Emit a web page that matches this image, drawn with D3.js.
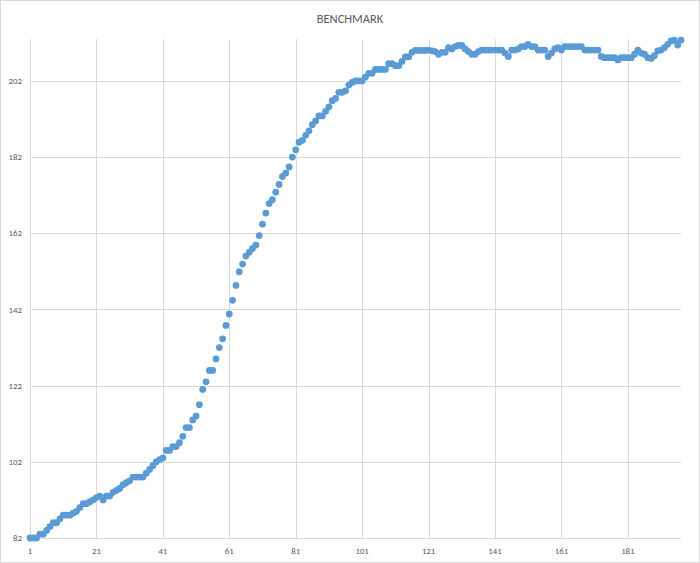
<!DOCTYPE html>
<html>
<head>
<meta charset="utf-8">
<script src="https://cdn.jsdelivr.net/npm/d3@7"></script>
<style>
    body { margin: 0; background: #fff; }
    #chart-area text { font-family: Calibri, Carlito, Lato, sans-serif; fill: #595959; }
    .grid-line { stroke: #d9d9d9; stroke-width: 1; shape-rendering: crispEdges; }
</style>
</head>
<body>
<div id="chart-area"></div>
<script>
// Benchmark values, one per category (1..197)
const values = [
    82, 82, 82, 83, 83, 84, 85, 86, 86, 87,
    88, 88, 88, 88.5, 89, 90, 91, 91, 91.5, 92,
    92.6, 93, 92, 93, 93, 94, 94.5, 95, 96, 96.5,
    97, 98, 98, 98, 98, 99, 100, 101, 102, 102.6,
    103, 105, 105, 106, 106, 107, 108.7, 111, 111, 113,
    114, 117, 121, 123, 126, 126, 129, 132, 134.3, 137.8,
    140.8, 144.4, 148.3, 151.9, 153.9, 156, 157, 158, 158.9, 161.4,
    164.4, 167.3, 169.8, 170.8, 172.8, 174.8, 176.9, 177.8, 179.4, 182,
    183.9, 185.9, 186.4, 187.7, 188.9, 190.5, 191.5, 192.8, 192.8, 194,
    195.2, 196.8, 197.4, 199, 199, 199.4, 200.9, 201.6, 202, 202,
    202, 203, 204, 204, 205, 205, 205, 205, 206.5, 206.5,
    206, 206, 207.1, 208.3, 208.3, 209.5, 210, 210, 210, 210,
    210.1, 209.9, 209.7, 209, 209.5, 209.5, 210.7, 210.4, 211, 211.3,
    211.3, 210.4, 209.7, 209, 209, 209.7, 210.1, 210.1, 210.1, 210.1,
    210.1, 210.1, 210.1, 209.3, 208.4, 210.1, 210.1, 210.4, 211, 211,
    211.6, 211, 211, 210.1, 210.1, 210.1, 208.4, 209.3, 210.4, 210.7,
    210.1, 211, 211, 211, 211, 211, 211, 210.1, 210.1, 210.1,
    210.1, 210.1, 208.4, 208.1, 208.1, 208.1, 208.1, 207.5, 208.1, 208.1,
    208.1, 208.1, 209, 210.1, 209.3, 209, 208.1, 207.9, 208.6, 209.9,
    210.1, 210.7, 211.6, 212.5, 212.7, 211.4, 212.7
];
const xTicks = [1, 21, 41, 61, 81, 101, 121, 141, 161, 181];
const yTicks = [82, 102, 122, 142, 162, 182, 202];
const title = "BENCHMARK";

document.addEventListener('DOMContentLoaded', function () {

    // 1. Setup
    const width = 700;
    const height = 563;
    const margin = { top: 39, right: 19, bottom: 25, left: 30 };
    const data = values.map((v, i) => ({ x: i + 1, y: v }));

    const svg = d3.select("#chart-area")
        .append("svg")
        .attr("width", width)
        .attr("height", height);

    // chart area border
    svg.append("rect")
        .attr("x", 0.5).attr("y", 0.5)
        .attr("width", width - 1).attr("height", height - 1)
        .attr("fill", "#fff")
        .attr("stroke", "#d9d9d9");

    // 2. Scales
    const xScale = d3.scaleLinear()
        .domain([1, values.length])
        .range([margin.left, width - margin.right]);

    const yScale = d3.scaleLinear()
        .domain([82, 213])
        .range([height - margin.bottom, margin.top]);

    // 3. Gridlines
    svg.selectAll(".h-grid")
        .data(yTicks)
        .enter()
        .append("line")
        .attr("class", "grid-line")
        .attr("x1", margin.left)
        .attr("x2", width - margin.right)
        .attr("y1", d => Math.round(yScale(d)) + 0.5)
        .attr("y2", d => Math.round(yScale(d)) + 0.5);

    svg.selectAll(".v-grid")
        .data(xTicks)
        .enter()
        .append("line")
        .attr("class", "grid-line")
        .attr("x1", d => Math.round(xScale(d)) + 0.5)
        .attr("x2", d => Math.round(xScale(d)) + 0.5)
        .attr("y1", margin.top)
        .attr("y2", height - margin.bottom);

    // 4. Axis labels
    svg.selectAll(".y-label")
        .data(yTicks)
        .enter()
        .append("text")
        .attr("x", margin.left - 8)
        .attr("y", d => yScale(d))
        .attr("dy", "0.35em")
        .attr("text-anchor", "end")
        .style("font-size", "8.8px")
        .text(d => d);

    svg.selectAll(".x-label")
        .data(xTicks)
        .enter()
        .append("text")
        .attr("x", d => xScale(d))
        .attr("y", height - 9.5)
        .attr("text-anchor", "middle")
        .style("font-size", "8.8px")
        .text(d => d);

    // title
    svg.append("text")
        .attr("x", width / 2)
        .attr("y", 22.5)
        .attr("text-anchor", "middle")
        .style("font-size", "12.5px")
        .text(title);

    // 5. Markers
    svg.selectAll(".dot")
        .data(data)
        .enter()
        .append("circle")
        .attr("cx", d => xScale(d.x))
        .attr("cy", d => yScale(d.y))
        .attr("r", 3.4)
        .attr("fill", "#5b9bd5");
});
</script>
</body>
</html>
